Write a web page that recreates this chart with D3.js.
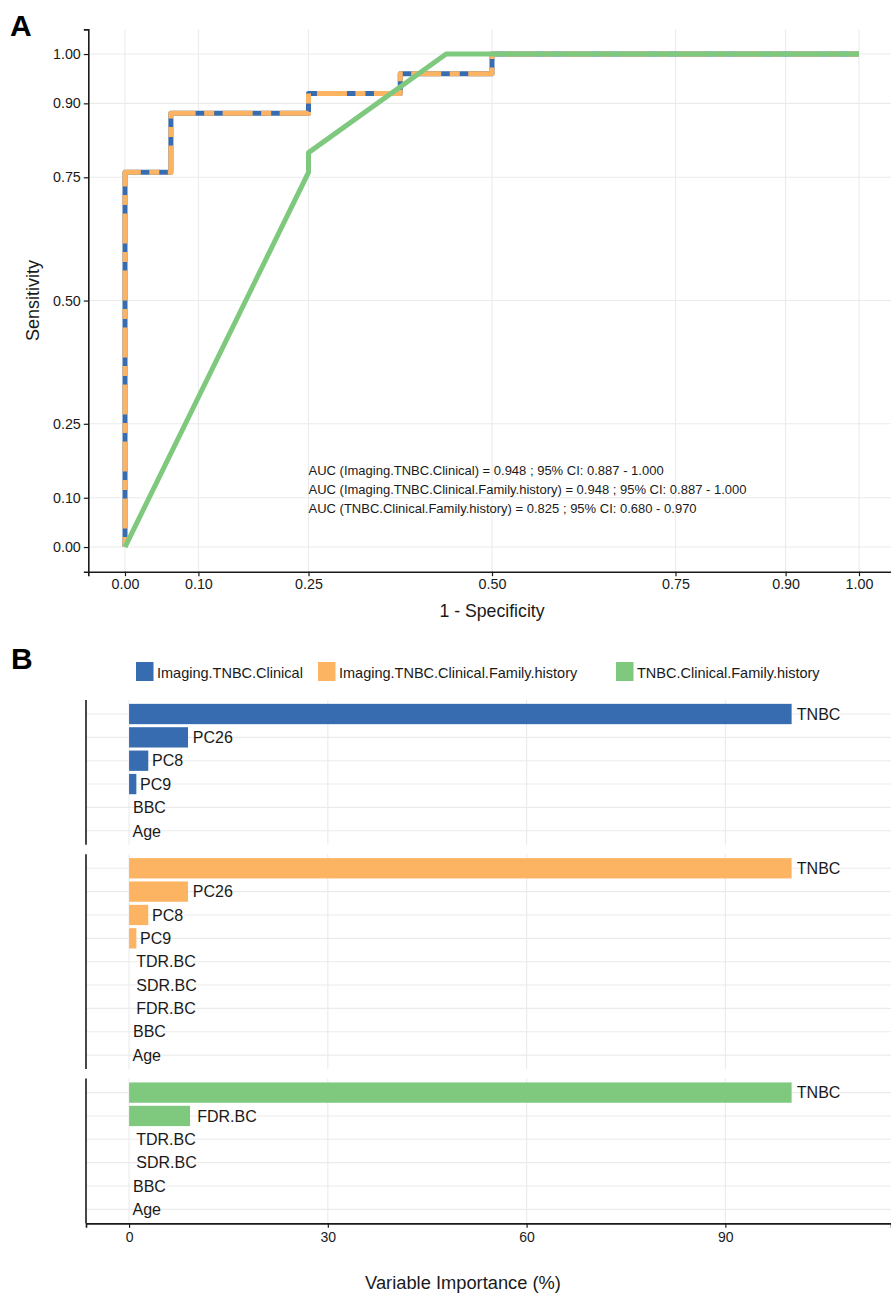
<!DOCTYPE html>
<html>
<head>
<meta charset="utf-8">
<script src="https://cdn.jsdelivr.net/npm/d3@7"></script>
<style>
  body { margin: 0; background: #fff; }
  svg { display: block; font-family: "Liberation Sans", Arial, Helvetica, sans-serif; }
</style>
</head>
<body>
<svg id="fig" width="891" height="1293"></svg>
<script>
// ---- Panel A: ROC curves (x = 1 - specificity, y = sensitivity) ----
const models = ["Imaging.TNBC.Clinical", "Imaging.TNBC.Clinical.Family.history", "TNBC.Clinical.Family.history"];
const modelColors = ["#386CB0", "#FDB462", "#7FC97F"];

const rocFpr1 = [0, 0, 0.0625, 0.0625, 0.25, 0.25, 0.375, 0.375, 0.5, 0.5, 1];
const rocTpr1 = [0, 0.76, 0.76, 0.88, 0.88, 0.92, 0.92, 0.96, 0.96, 1, 1];
const rocFpr2 = [0, 0, 0.0625, 0.0625, 0.25, 0.25, 0.375, 0.375, 0.5, 0.5, 1];
const rocTpr2 = [0, 0.76, 0.76, 0.88, 0.88, 0.92, 0.92, 0.96, 0.96, 1, 1];
const rocFpr3 = [0, 0.25, 0.25, 0.4375, 1];
const rocTpr3 = [0, 0.76, 0.80, 1, 1];

const aucValues = [0.948, 0.948, 0.825];
const ciLow = [0.887, 0.887, 0.680];
const ciHigh = [1.000, 1.000, 0.970];

const rocTicks = [0, 0.10, 0.25, 0.50, 0.75, 0.90, 1.00];

// ---- Panel B: variable importance per model ----
const vars1 = ["TNBC", "PC26", "PC8", "PC9", "BBC", "Age"];
const imp1 = [100, 8.9, 2.9, 1.1, 0, 0];
const vars2 = ["TNBC", "PC26", "PC8", "PC9", "TDR.BC", "SDR.BC", "FDR.BC", "BBC", "Age"];
const imp2 = [100, 8.9, 2.9, 1.1, 0, 0, 0, 0, 0];
const vars3 = ["TNBC", "FDR.BC", "TDR.BC", "SDR.BC", "BBC", "Age"];
const imp3 = [100, 9.2, 0, 0, 0, 0];

const impTicks = [0, 30, 60, 90];

const svg = d3.select("#fig");
svg.append("rect").attr("width", 891).attr("height", 1293).attr("fill", "#fff");

const gridColor = "#ebebeb";
const axisColor = "#1a1a1a";
const textColor = "#1a1a1a";
const fmt2 = d3.format(".2f");
const fmt3 = d3.format(".3f");

// ================= Panel A =================
const xA = d3.scaleLinear().domain([-0.05, 1.05]).range([88.3, 895.7]);
const yA = d3.scaleLinear().domain([-0.05, 1.05]).range([571.7, 29.4]);
const gA = svg.append("g");

// grid
gA.append("g").selectAll("line").data(rocTicks).join("line")
  .attr("x1", d => xA(d)).attr("x2", d => xA(d))
  .attr("y1", yA.range()[1]).attr("y2", yA.range()[0])
  .attr("stroke", gridColor).attr("stroke-width", 1.1);
gA.append("g").selectAll("line").data(rocTicks).join("line")
  .attr("x1", xA.range()[0]).attr("x2", xA.range()[1])
  .attr("y1", d => yA(d)).attr("y2", d => yA(d))
  .attr("stroke", gridColor).attr("stroke-width", 1.1);

// curves
const rocLine = d3.line().x(d => xA(d[0])).y(d => yA(d[1]));
const curves = [
  d3.zip(rocFpr1, rocTpr1),
  d3.zip(rocFpr2, rocTpr2),
  d3.zip(rocFpr3, rocTpr3)
];
const curveG = gA.append("g").attr("fill", "none").attr("stroke-width", 5).attr("stroke-linejoin", "round");
curveG.append("path").attr("d", rocLine(curves[0])).attr("stroke", modelColors[0]);
curveG.append("path").attr("d", rocLine(curves[1])).attr("stroke", modelColors[1])
  .attr("stroke-dasharray", "10,8.5,30,8.5");
curveG.append("path").attr("d", rocLine(curves[2])).attr("stroke", modelColors[2]);

// axes
const axAx = d3.axisBottom(xA).tickValues(rocTicks).tickFormat(fmt2).tickSize(4.5).tickPadding(3);
const axAy = d3.axisLeft(yA).tickValues(rocTicks).tickFormat(fmt2).tickSize(4.5).tickPadding(3);
const gxA = gA.append("g").attr("transform", `translate(0,${yA.range()[0]})`).call(axAx);
const gyA = gA.append("g").attr("transform", `translate(${xA.range()[0]},0)`).call(axAy);
[gxA, gyA].forEach(g => {
  g.attr("font-family", null);
  g.select(".domain").attr("stroke", axisColor).attr("stroke-width", 1.6);
  g.selectAll(".tick line").attr("stroke", axisColor).attr("stroke-width", 1.2);
  g.selectAll(".tick text").attr("fill", textColor).style("font-size", "14.3px");
});

gA.append("text").attr("x", xA(0.5)).attr("y", 617).attr("text-anchor", "middle")
  .attr("fill", textColor).style("font-size", "17.7px").text("1 - Specificity");
gA.append("text").attr("transform", `translate(39,${(yA.range()[0] + yA.range()[1]) / 2}) rotate(-90)`)
  .attr("text-anchor", "middle").attr("fill", textColor).style("font-size", "18px").text("Sensitivity");

// AUC annotations
const aucText = gA.append("g").style("font-size", "13px").attr("fill", textColor);
models.forEach((m, i) => {
  aucText.append("text").attr("x", xA(0.25)).attr("y", 474.5 + i * 19)
    .text(`AUC (${m}) = ${fmt3(aucValues[i])} ; 95% CI: ${fmt3(ciLow[i])} - ${fmt3(ciHigh[i])}`);
});

svg.append("text").attr("x", 10).attr("y", 36).style("font-size", "30px").style("font-weight", "bold")
  .attr("fill", "#000").text("A");

// ================= Panel B =================
svg.append("text").attr("x", 11).attr("y", 669).style("font-size", "30px").style("font-weight", "bold")
  .attr("fill", "#000").text("B");

// legend
const legendX = [136, 318, 616];
const legend = svg.append("g");
models.forEach((m, i) => {
  legend.append("rect").attr("x", legendX[i]).attr("y", 662).attr("width", 17.5).attr("height", 19)
    .attr("fill", modelColors[i]);
  legend.append("text").attr("x", legendX[i] + 21).attr("y", 677.5).style("font-size", "14.5px")
    .attr("fill", textColor).text(m);
});

const xB = d3.scaleLinear().domain([-6.5, 115]).range([86, 891]);
const facets = [
  { vars: vars1, vals: imp1 },
  { vars: vars2, vals: imp2 },
  { vars: vars3, vals: imp3 }
];
const rowStep = 23.35;
const facetGap = 9.5;
let facetTop = 700;
const gB = svg.append("g");
facets.forEach((f, k) => {
  const h = (f.vars.length - 1 + 1.2) * rowStep;
  const y = d3.scalePoint().domain(f.vars).range([facetTop, facetTop + h]).padding(0.6);
  const g = gB.append("g");
  // grid
  g.append("g").selectAll("line").data(impTicks).join("line")
    .attr("x1", d => xB(d)).attr("x2", d => xB(d)).attr("y1", facetTop).attr("y2", facetTop + h)
    .attr("stroke", gridColor).attr("stroke-width", 1.1);
  g.append("g").selectAll("line").data(f.vars).join("line")
    .attr("x1", xB.range()[0]).attr("x2", xB.range()[1])
    .attr("y1", d => y(d)).attr("y2", d => y(d))
    .attr("stroke", gridColor).attr("stroke-width", 1.1);
  // bars
  const rows = f.vars.map((v, i) => [v, f.vals[i]]);
  const bh = rowStep * 0.87;
  g.append("g").selectAll("rect").data(rows).join("rect")
    .attr("x", xB(0)).attr("y", d => y(d[0]) - bh / 2)
    .attr("width", d => xB(d[1]) - xB(0)).attr("height", bh)
    .attr("fill", modelColors[k]);
  // labels just beyond each bar
  g.append("g").selectAll("text").data(rows).join("text")
    .attr("y", d => y(d[0])).attr("dy", "0.36em")
    .style("font-size", "16px").attr("fill", textColor)
    .text(d => d[0])
    .each(function (d) {
      const w = this.getComputedTextLength();
      d3.select(this).attr("x", xB(d[1]) + 0.12 * w);
    });
  // left axis line
  g.append("line").attr("x1", xB.range()[0]).attr("x2", xB.range()[0])
    .attr("y1", facetTop).attr("y2", facetTop + h).attr("stroke", axisColor).attr("stroke-width", 1.6);
  if (k === facets.length - 1) {
    const ax = d3.axisBottom(xB).tickValues(impTicks).tickFormat(d3.format("d")).tickSize(4.5).tickPadding(4);
    const gx = g.append("g").attr("transform", `translate(0,${facetTop + h})`).call(ax);
    gx.attr("font-family", null);
    gx.select(".domain").attr("stroke", axisColor).attr("stroke-width", 1.6);
    gx.selectAll(".tick line").attr("stroke", axisColor).attr("stroke-width", 1.2);
    gx.selectAll(".tick text").attr("fill", textColor).style("font-size", "14px");
  }
  facetTop += h + facetGap;
});

svg.append("text").attr("x", 463).attr("y", 1289).attr("text-anchor", "middle")
  .style("font-size", "18.3px").attr("fill", textColor).text("Variable Importance (%)");
</script>
</body>
</html>
